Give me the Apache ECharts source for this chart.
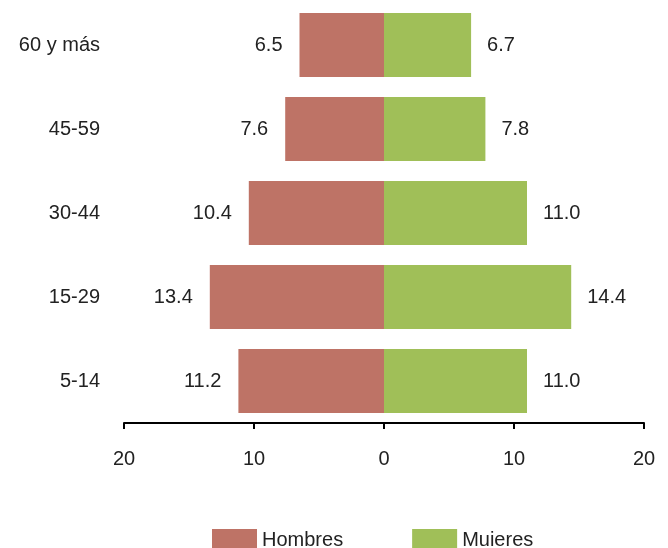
<!DOCTYPE html>
<html><head><meta charset="utf-8">
<script src="https://cdn.jsdelivr.net/npm/echarts@6/dist/echarts.min.js"></script>
<style>html,body{margin:0;padding:0;background:#fff}#c{width:668px;height:548px}</style>
</head><body><div id="c"></div>
<script>
const categories = ['5-14', '15-29', '30-44', '45-59', '60 y más'];
const hombres = [11.2, 13.4, 10.4, 7.6, 6.5];
const mujeres = [11.0, 14.4, 11.0, 7.8, 6.7];
const xTicks = [-20, -10, 0, 10, 20];

const font = 'Liberation Sans, Arial, sans-serif';
const fs = 20;
const chart = echarts.init(document.getElementById('c'));
chart.setOption({
  animation: false,
  textStyle: { fontFamily: font },
  grid: { left: 124, right: 24, top: 3, bottom: 125, containLabel: false },
  legend: {
    top: 529, left: 212,
    itemWidth: 45, itemHeight: 23, itemGap: 69,
    icon: 'rect', padding: 0,
    textStyle: { fontSize: fs, color: '#222', fontFamily: font },
    data: ['Hombres', 'Muieres']
  },
  xAxis: {
    type: 'value', min: xTicks[0], max: xTicks[xTicks.length - 1], interval: 10,
    axisLine: { show: true, lineStyle: { color: '#000', width: 2 } },
    axisTick: { show: true, length: 6, lineStyle: { color: '#000', width: 2 } },
    splitLine: { show: false },
    axisLabel: { fontSize: fs, color: '#222', margin: 26, fontFamily: font, formatter: v => Math.abs(v) }
  },
  yAxis: {
    type: 'category', data: categories,
    axisLine: { show: false, onZero: false }, axisTick: { show: false },
    axisLabel: { fontSize: fs, color: '#222', margin: 24, fontFamily: font }
  },
  series: [
    {
      name: 'Hombres', type: 'bar', stack: 't', barWidth: 64,
      data: hombres.map(v => -v),
      itemStyle: { color: '#BE7366' },
      label: { show: true, position: 'left', distance: 17, fontSize: fs, color: '#222', fontFamily: font,
        formatter: p => Math.abs(p.value).toFixed(1) }
    },
    {
      name: 'Muieres', type: 'bar', stack: 't', barWidth: 64,
      data: mujeres,
      itemStyle: { color: '#A0BF58' },
      label: { show: true, position: 'right', distance: 16, fontSize: fs, color: '#222', fontFamily: font,
        formatter: p => p.value.toFixed(1) }
    }
  ]
});
</script></body></html>
